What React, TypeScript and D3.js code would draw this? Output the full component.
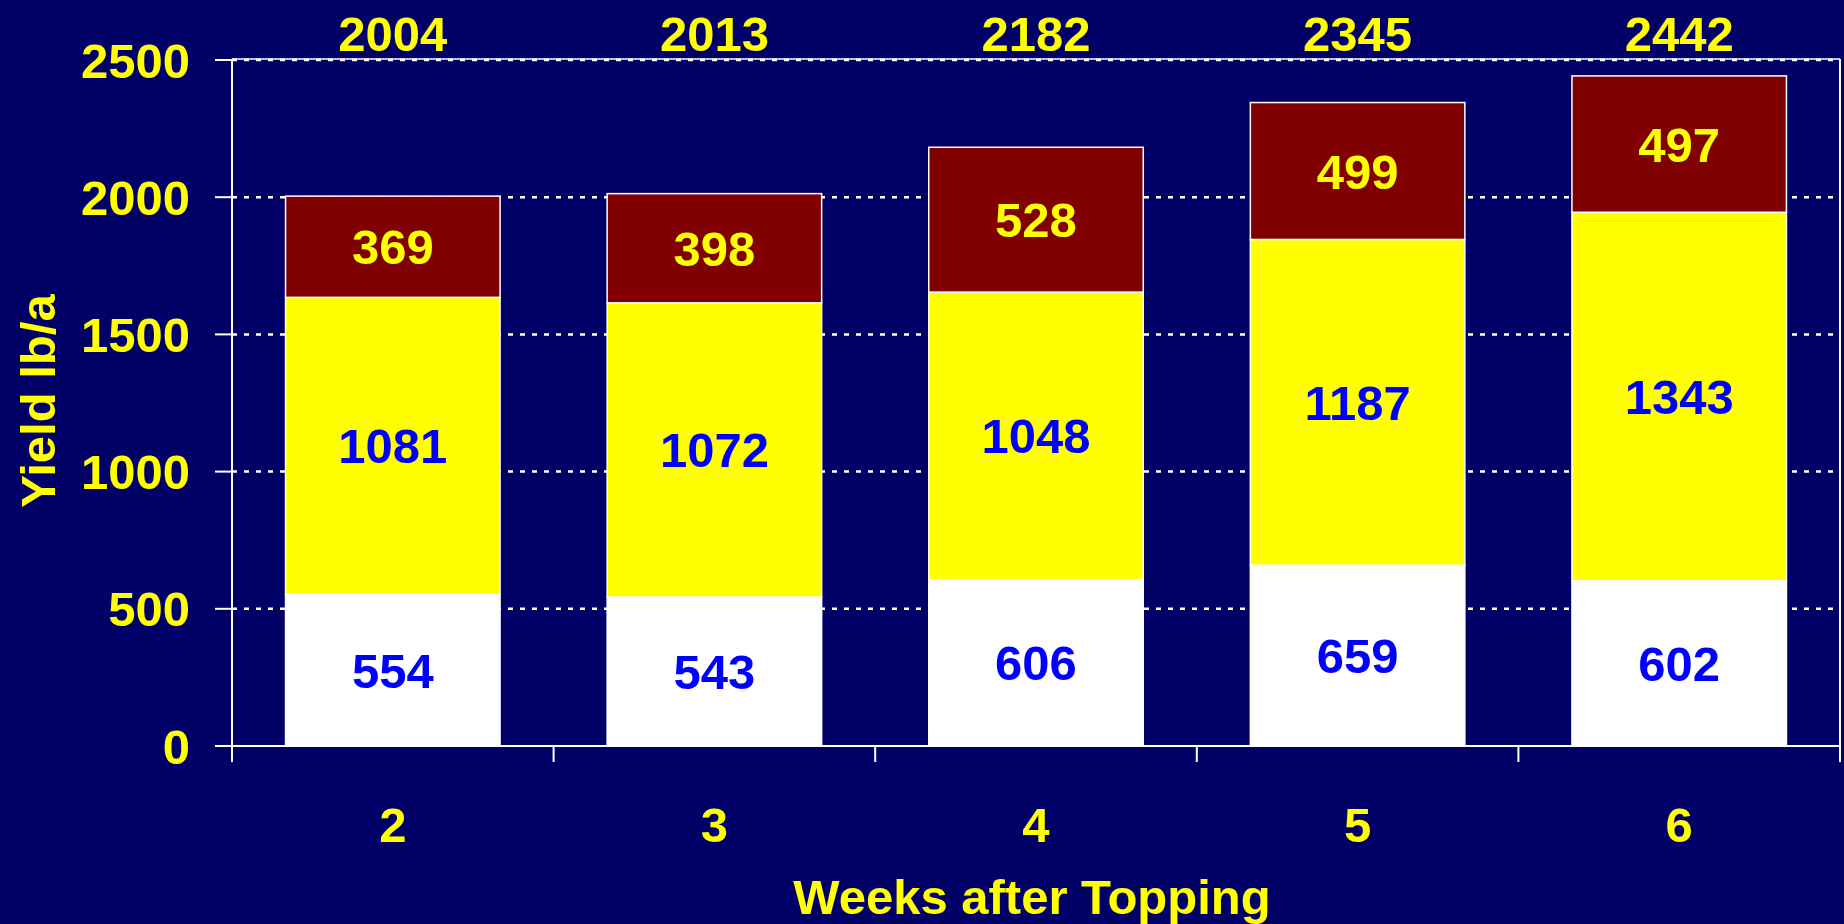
import React, { useEffect } from "react";
import * as d3 from "d3";

const categories = ["2", "3", "4", "5", "6"];
const bottomSeries = [554, 543, 606, 659, 602];
const middleSeries = [1081, 1072, 1048, 1187, 1343];
const topSeries = [369, 398, 528, 499, 497];
const totals = [2004, 2013, 2182, 2345, 2442];
const yTicks = [0, 500, 1000, 1500, 2000, 2500];

const W = 1844;
const H = 924;
const M = { left: 232, right: 1840, top: 60, bottom: 746 };
const BG = "#000066";
const YELLOW = "#FFFF00";
const BLUE = "#0000FF";
const MAROON = "#800000";
const FONT = "'Liberation Sans', Arial, sans-serif";
const FS = 49;

export default function App() {
  useEffect(() => {
    document.body.style.margin = "0";
    document.body.style.background = BG;
  }, []);

  const x = d3.scaleBand<string>().domain(categories).range([M.left, M.right]).paddingInner(0.333).paddingOuter(0.1665);
  const xb = d3.scaleBand<string>().domain(categories).range([M.left, M.right]).padding(0);
  const y = d3.scaleLinear().domain([0, 2500]).range([M.bottom, M.top]);

  const rows = categories.map((c, i) => ({ c, bottom: bottomSeries[i], middle: middleSeries[i], top: topSeries[i] }));
  const stack = d3.stack<any>().keys(["bottom", "middle", "top"])(rows);
  const fills: Record<string, string> = { bottom: "#FFFFFF", middle: YELLOW, top: MAROON };
  const labelColors: Record<string, string> = { bottom: BLUE, middle: BLUE, top: YELLOW };
  const capHalf = FS * 0.358;

  const boundaries = [...categories.map((c) => xb(c) as number), M.right];

  return (
    <svg width={W} height={H} style={{ display: "block", position: "absolute", left: 0, top: 0 }} fontFamily={FONT} fontWeight="bold">
      <rect x={0} y={0} width={W} height={H} fill={BG} />
      {/* gridlines */}
      {yTicks.filter((t) => t > 0).map((t) => (
        <line key={t} x1={M.left} x2={M.right} y1={y(t)} y2={y(t)} stroke="#FFFFFF" strokeWidth={2.5} strokeDasharray="5 7" />
      ))}
      {/* top & right border */}
      <line x1={M.left} x2={M.right} y1={M.top - 1} y2={M.top - 1} stroke="#FFFFFF" strokeWidth={1.5} />
      <line x1={M.right} x2={M.right} y1={M.top - 1} y2={M.bottom + 16} stroke="#FFFFFF" strokeWidth={2} />
      {/* bars */}
      {stack.map((layer) =>
        layer.map((d, i) => (
          <rect
            key={layer.key + i}
            x={x(categories[i])}
            width={x.bandwidth()}
            y={y(d[1])}
            height={y(d[0]) - y(d[1])}
            fill={fills[layer.key]}
            stroke="#FFFFFF"
            strokeWidth={1.5}
          />
        ))
      )}
      {/* segment labels */}
      {stack.map((layer) =>
        layer.map((d, i) => (
          <text
            key={"l" + layer.key + i}
            x={(x(categories[i]) as number) + x.bandwidth() / 2}
            y={(y(d[0]) + y(d[1])) / 2 + capHalf}
            textAnchor="middle"
            fontSize={FS}
            fill={labelColors[layer.key]}
          >
            {d[1] - d[0]}
          </text>
        ))
      )}
      {/* totals */}
      {totals.map((t, i) => (
        <text key={"t" + i} x={(xb(categories[i]) as number) + xb.bandwidth() / 2} y={51} textAnchor="middle" fontSize={FS} fill={YELLOW}>
          {t}
        </text>
      ))}
      {/* axes */}
      <line x1={M.left} x2={M.left} y1={M.top - 1} y2={M.bottom + 16} stroke="#FFFFFF" strokeWidth={2} />
      <line x1={M.left - 17} x2={M.right} y1={M.bottom} y2={M.bottom} stroke="#FFFFFF" strokeWidth={2} />
      {yTicks.map((t) => (
        <g key={"yt" + t}>
          <line x1={M.left - 17} x2={M.left} y1={y(t)} y2={y(t)} stroke="#FFFFFF" strokeWidth={2} />
          <text x={190} y={y(t) + capHalf} textAnchor="end" fontSize={FS} fill={YELLOW}>
            {t}
          </text>
        </g>
      ))}
      {boundaries.map((bx, i) => (
        <line key={"xt" + i} x1={bx} x2={bx} y1={M.bottom} y2={M.bottom + 16} stroke="#FFFFFF" strokeWidth={2} />
      ))}
      {categories.map((c) => (
        <text key={"xl" + c} x={(xb(c) as number) + xb.bandwidth() / 2} y={842} textAnchor="middle" fontSize={FS} fill={YELLOW}>
          {c}
        </text>
      ))}
      <text x={1032} y={914} textAnchor="middle" fontSize={FS} fill={YELLOW}>
        Weeks after Topping
      </text>
      <text transform={`translate(55, 401) rotate(-90)`} textAnchor="middle" fontSize={FS} fill={YELLOW}>
        Yield lb/a
      </text>
    </svg>
  );
}
